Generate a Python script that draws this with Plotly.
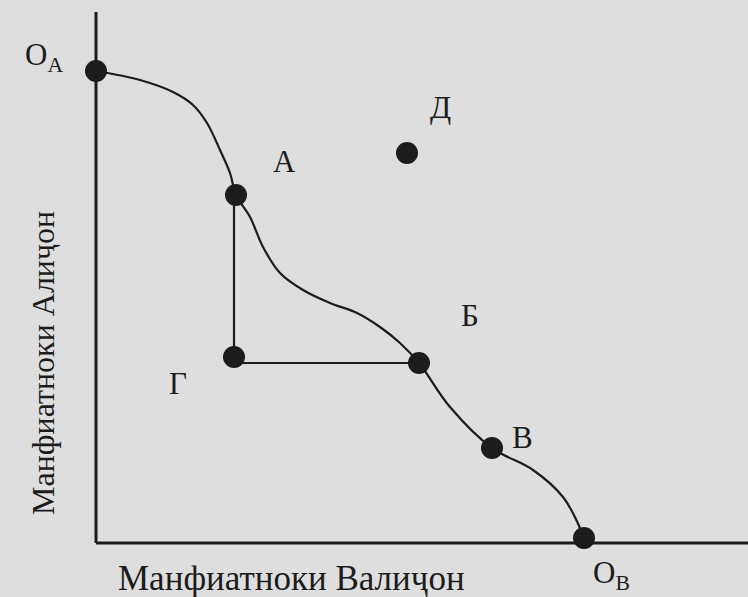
import plotly.graph_objects as go

# points of the diagram (units: arbitrary utility scale)
point_names = ["O<sub>A</sub>", "А", "Б", "В", "O<sub>B</sub>", "Г", "Д"]
point_x = [0.0, 2.8, 6.46, 7.92, 9.76, 2.76, 6.22]
point_y = [9.44, 6.96, 3.6, 1.9, 0.1, 3.72, 7.8]

# contract curve readings from O_A to O_B
curve_x = [0.0, 0.88, 1.54, 1.94, 2.22, 2.48, 2.68, 2.8, 3.08, 3.34, 3.68,
           4.14, 4.68, 5.22, 5.68, 6.08, 6.46, 7.08, 7.92, 8.74, 9.34, 9.68, 9.76]
curve_y = [9.44, 9.26, 9.02, 8.76, 8.4, 7.86, 7.4, 6.96, 6.52, 5.92, 5.4,
           5.06, 4.8, 4.6, 4.32, 4.0, 3.6, 2.72, 1.9, 1.46, 0.92, 0.3, 0.06]

# A -> Г -> Б corner
corner = ["А", "Г", "Б"]

x_title = "Манфиатноки Валиҷон"
y_title = "Манфиатноки Алиҷон"

FONT = "Liberation Serif, Times New Roman, serif"
INK = "#1c1c1c"

fig = go.Figure()

plain = [n.replace("<sub>", "").replace("</sub>", "") for n in point_names]
cx = [point_x[plain.index(n)] for n in corner]
cy = [point_y[plain.index(n)] for n in corner]
cx[0] = cx[1]
cy[1] = cy[2]
fig.add_trace(go.Scatter(x=cx, y=cy, mode="lines",
                         line=dict(color=INK, width=2.2), hoverinfo="skip"))

fig.add_trace(go.Scatter(x=curve_x, y=curve_y, mode="lines",
                         line=dict(color=INK, width=2.2, shape="spline", smoothing=1.0),
                         hoverinfo="skip"))

fig.add_trace(go.Scatter(x=point_x, y=point_y, mode="markers",
                         marker=dict(size=22, color=INK), text=point_names,
                         hoverinfo="text"))

# axes drawn as plain lines
fig.add_shape(type="line", x0=0, x1=0, y0=0, y1=10.62, line=dict(color=INK, width=3))
fig.add_shape(type="line", x0=0, x1=13.2, y0=0, y1=0, line=dict(color=INK, width=3))

# label offsets in px (right, up)
offsets = [(-52, 14), (48, 34), (51, 48), (30, 11), (27, -37), (-56, -26), (33, 46)]
for name, x, y, (dx, dy) in zip(point_names, point_x, point_y, offsets):
    fig.add_annotation(x=x, y=y, text=name, showarrow=False, xshift=dx, yshift=dy,
                       font=dict(family=FONT, size=31, color=INK))

fig.add_annotation(x=3.9, y=-0.7, text=x_title, showarrow=False,
                   font=dict(family=FONT, size=35, color=INK))
fig.add_annotation(x=-1.06, y=3.6, text=y_title, showarrow=False, textangle=-90,
                   font=dict(family=FONT, size=32, color=INK))

fig.update_xaxes(range=[-1.92, 13.04], visible=False)
fig.update_yaxes(range=[-1.08, 10.86], visible=False)
fig.update_layout(width=748, height=597, margin=dict(l=0, r=0, t=0, b=0),
                  showlegend=False, paper_bgcolor="#dedede", plot_bgcolor="#dedede")

fig.write_html("out.html", config={"displayModeBar": False},
               post_script="document.body.style.margin='0';")
